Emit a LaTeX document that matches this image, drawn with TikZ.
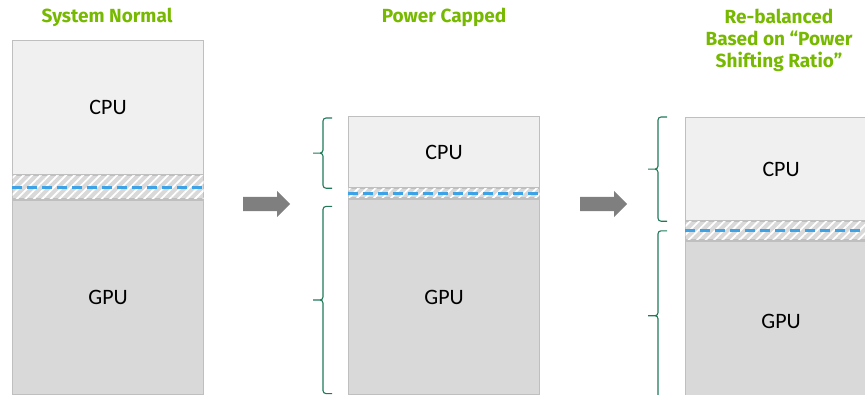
\documentclass[tikz,border=0pt]{standalone}
\usepackage{fontspec}
\setmainfont{Carlito}
\newfontfamily\headfont{Fira Sans}
\usetikzlibrary{positioning, calc, shapes.arrows, patterns.meta}

\definecolor{cpufill}{HTML}{F0F0F0}
\definecolor{gpufill}{HTML}{D9D9D9}
\definecolor{boxline}{HTML}{BFBFBF}
\definecolor{capblue}{HTML}{3DA3E6}
\definecolor{bracegreen}{HTML}{1F7A57}
\definecolor{arrowgray}{HTML}{7F7F7F}
\definecolor{titlegreen}{HTML}{76B900}

\begin{document}
\begin{tikzpicture}[
  x=1pt, y=-1pt,
  partbox/.style={rectangle, draw=boxline, line width=1.2pt, minimum width=191pt,
    inner sep=0pt, anchor=north west, font=\fontsize{22}{24}\selectfont},
  cpubox/.style={partbox, fill=cpufill},
  gpubox/.style={partbox, fill=gpufill},
  sharedband/.style={partbox, fill=gpufill,
    postaction={pattern={Lines[angle=45, distance=6pt, line width=1.8pt]}, pattern color=white}},
  capline/.style={draw=capblue, line width=2.8pt, dash pattern=on 10pt off 5pt},
  % square brace: ends hook to the right, tip points left
  budget/.style={draw=bracegreen, line width=1.1pt, rounded corners=3pt,
    to path={-- ([xshift=-9pt]\tikztostart)
      |- ([xshift=-19pt]$(\tikztostart)!.5!(\tikztotarget)$)
      ([xshift=-19pt]$(\tikztostart)!.5!(\tikztotarget)$)
      -| ([xshift=-9pt]\tikztotarget) -- (\tikztotarget)}},
  steparrow/.style={single arrow, fill=arrowgray, inner xsep=0pt, inner ysep=7pt,
    minimum height=47pt, single arrow head extend=6pt, anchor=tail},
  heading/.style={text=titlegreen, font=\headfont\bfseries\fontsize{19}{22}\selectfont, align=center}
]
\useasboundingbox (0,0) rectangle (865,394);
\clip (0,0) rectangle (865,394);

% Titles
\node[heading] (title1) at (107,17) {System Normal};
\node[heading] (title2) at (444,17) {Power Capped};
\node[heading] (title3) at (779,40) {Re-balanced\\Based on “Power\\Shifting Ratio”};

% System normal
\node[cpubox, minimum height=134pt] (cpu1) at (12,40) {CPU};
\node[sharedband, minimum height=23pt] (band1) at (cpu1.south west) {};
\node[gpubox, minimum height=195pt] (gpu1) at (band1.south west) {GPU};
\draw[capline] (band1.west) -- (band1.east);

% Power capped
\node[cpubox, minimum height=71pt] (cpu2) at (348,116) {CPU};
\node[sharedband, minimum height=9pt] (band2) at (cpu2.south west) {};
\node[gpubox, minimum height=196pt] (gpu2) at (band2.south west) {GPU};
\draw[capline] (band2.west) -- (band2.east);

% Re-balanced
\node[cpubox, minimum height=103pt] (cpu3) at (685,117) {CPU};
\node[sharedband, minimum height=18pt] (band3) at (cpu3.south west) {};
\node[gpubox, minimum height=160pt] (gpu3) at (band3.south west) {GPU};
\draw[capline] (band3.west) -- (band3.east);

% Arrows
\node[steparrow] (go1) at (243,204) {};
\node[steparrow] (go2) at (580,204) {};

% Braces
\draw[budget] ([xshift=-16pt, yshift=-2pt]cpu2.north west) to ([xshift=-16pt]cpu2.south west);
\draw[budget] ([xshift=-16pt, yshift=-8pt]gpu2.north west) to ([xshift=-16pt, yshift=2pt]gpu2.south west);
\draw[budget] ([xshift=-18pt]cpu3.north west) to ([xshift=-18pt]cpu3.south west);
\draw[budget] ([xshift=-18pt]band3.west) to ([xshift=-18pt, yshift=1pt]gpu3.south west);

\end{tikzpicture}
\end{document}
